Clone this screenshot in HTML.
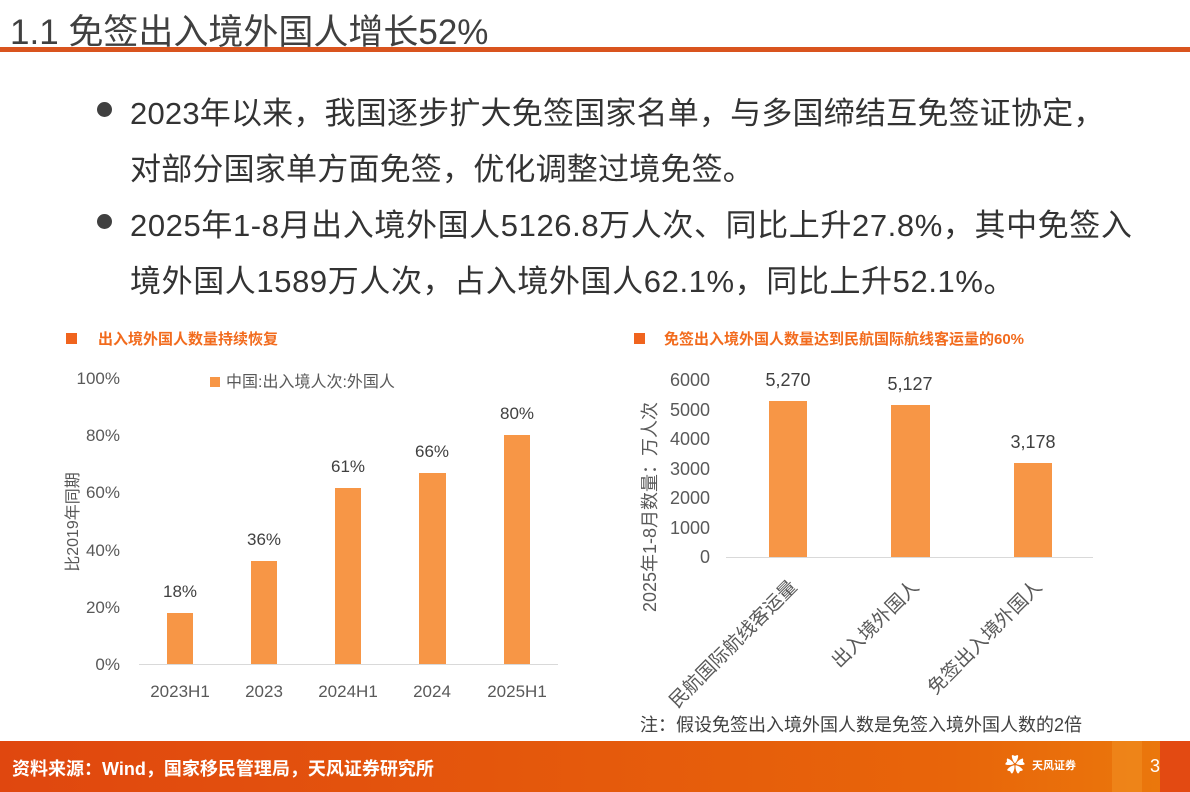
<!DOCTYPE html>
<html><head><meta charset="utf-8"><style>
*{margin:0;padding:0}
body{width:1190px;height:792px;position:relative;background:#fff;overflow:hidden;font-family:"Liberation Sans","Noto Sans CJK SC",sans-serif;color:#404040}
.a{position:absolute;white-space:nowrap}
.bul{font-size:31px;color:#333}
.dot{position:absolute;width:15px;height:15px;border-radius:50%;background:#404040}
.sq{position:absolute;width:11px;height:11px;background:#f0641e}
.st{font-size:15px;font-weight:bold;color:#f26b1d}
</style></head><body>
<div class="a" style="left:10px;top:4px;font-size:35px;color:#404040">1.1 免签出入境外国人增长52%</div>
<div class="a" style="left:0;top:47px;width:1190px;height:5px;background:#d9541e"></div>

<div class="dot" style="left:97px;top:102px"></div>
<div class="a bul" style="left:130px;top:88px;letter-spacing:0.2px">2023年以来，我国逐步扩大免签国家名单，与多国缔结互免签证协定，</div>
<div class="a bul" style="left:130px;top:144px;letter-spacing:0.2px">对部分国家单方面免签，优化调整过境免签。</div>
<div class="dot" style="left:97px;top:214px"></div>
<div class="a bul" style="left:130px;top:200px;letter-spacing:0.6px">2025年1-8月出入境外国人5126.8万人次、同比上升27.8%，其中免签入</div>
<div class="a bul" style="left:130px;top:256px;letter-spacing:0.6px">境外国人1589万人次，占入境外国人62.1%，同比上升52.1%。</div>

<div class="sq" style="left:66px;top:333px"></div>
<div class="a st" style="left:98px;top:328px">出入境外国人数量持续恢复</div>
<div class="sq" style="left:634px;top:333px"></div>
<div class="a st" style="left:664px;top:328px">免签出入境外国人数量达到民航国际航线客运量的60%</div>

<svg class="a" style="left:0;top:0" width="1190" height="792" font-family="Liberation Sans,Noto Sans CJK SC,sans-serif" fill="#595959">
<g font-size="17" text-anchor="end">
<text x="120" y="384">100%</text><text x="120" y="441">80%</text><text x="120" y="498">60%</text>
<text x="120" y="556">40%</text><text x="120" y="613">20%</text><text x="120" y="670">0%</text>
</g>
<line x1="139" y1="664.5" x2="558" y2="664.5" stroke="#d9d9d9"/>
<rect x="210" y="377" width="10" height="10" fill="#f79646"/>
<text x="226" y="387" font-size="16">中国:出入境人次:外国人</text>
<text transform="translate(78,522) rotate(-90)" font-size="16" text-anchor="middle">比2019年同期</text>
<g fill="#f79646">
<rect x="167" y="613" width="26" height="51"/><rect x="251" y="561" width="26" height="103"/>
<rect x="335" y="488" width="26" height="176"/><rect x="419" y="473" width="27" height="191"/>
<rect x="504" y="435" width="26" height="229"/>
</g>
<g font-size="17" text-anchor="middle" fill="#404040">
<text x="180" y="597">18%</text><text x="264" y="545">36%</text><text x="348" y="472">61%</text>
<text x="432" y="457">66%</text><text x="517" y="419">80%</text>
</g>
<g font-size="17" text-anchor="middle">
<text x="180" y="697">2023H1</text><text x="264" y="697">2023</text><text x="348" y="697">2024H1</text>
<text x="432" y="697">2024</text><text x="517" y="697">2025H1</text>
</g>

<g font-size="18" text-anchor="end">
<text x="710" y="386">6000</text><text x="710" y="416">5000</text><text x="710" y="445">4000</text>
<text x="710" y="475">3000</text><text x="710" y="504">2000</text><text x="710" y="534">1000</text><text x="710" y="563">0</text>
</g>
<line x1="726" y1="557.5" x2="1093" y2="557.5" stroke="#d9d9d9"/>
<text transform="translate(656,507) rotate(-90)" font-size="18" text-anchor="middle">2025年1-8月数量：万人次</text>
<g fill="#f79646">
<rect x="769" y="401" width="38" height="156"/><rect x="891" y="405" width="39" height="152"/>
<rect x="1014" y="463" width="38" height="94"/>
</g>
<g font-size="18" text-anchor="middle" fill="#404040">
<text x="788" y="386">5,270</text><text x="910" y="390">5,127</text><text x="1033" y="448">3,178</text>
</g>
<g font-size="19" text-anchor="end">
<text transform="translate(798,588) rotate(-45)">民航国际航线客运量</text>
<text transform="translate(920,588) rotate(-45)">出入境外国人</text>
<text transform="translate(1043,588) rotate(-45)">免签出入境外国人</text>
</g>
<text x="640" y="731" font-size="18" fill="#404040">注：假设免签出入境外国人数是免签入境外国人数的2倍</text>
</svg>

<div class="a" style="left:0;top:741px;width:1190px;height:51px;background:linear-gradient(90deg,#e0470f,#e8650a 80%,#eb7a0c)"></div>
<div class="a" style="left:1112px;top:741px;width:30px;height:51px;background:#ef8a1e;opacity:.7"></div>
<div class="a" style="left:1160px;top:741px;width:30px;height:51px;background:#e34a12"></div>
<div class="a" style="left:12px;top:755px;font-size:18px;font-weight:bold;color:#fff">资料来源：Wind，国家移民管理局，天风证券研究所</div>
<div class="a" style="left:1005px;top:752px;width:22px;height:28px;color:#fff;font-size:20px;line-height:28px">✿</div>
<div class="a" style="left:1032px;top:757px;font-size:11px;font-weight:bold;color:#fff">天风证券</div>
<div class="a" style="left:1150px;top:756px;font-size:18px;color:#fff">3</div>
</body></html>
